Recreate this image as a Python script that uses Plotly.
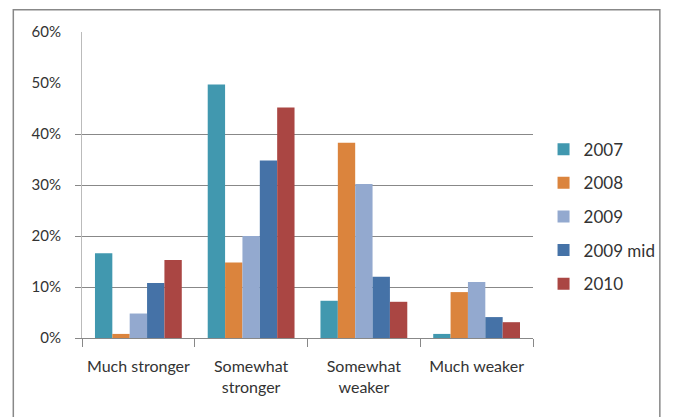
import plotly.graph_objects as go

categories = ["Much stronger", "Somewhat<br>stronger", "Somewhat<br>weaker", "Much weaker"]
series_names = ["2007", "2008", "2009", "2009 mid", "2010"]
values_2007 = [16.6, 49.7, 7.3, 0.8]
values_2008 = [0.8, 14.8, 38.3, 9.0]
values_2009 = [4.8, 20.0, 30.2, 11.0]
values_2009mid = [10.8, 34.8, 12.0, 4.1]
values_2010 = [15.3, 45.2, 7.1, 3.1]
series_values = [values_2007, values_2008, values_2009, values_2009mid, values_2010]
colors = ["#4198AF", "#DB843D", "#93A9CF", "#4572A7", "#AA4643"]
y_tickvals = [0, 10, 20, 30, 40, 50, 60]
y_ticktext = ["0%", "10%", "20%", "30%", "40%", "50%", "60%"]
grid_tickvals = [0, 10, 20, 30, 40]

FONT = "Lato"
TEXT = "#333"

fig = go.Figure()
for name, vals, col in zip(series_names, series_values, colors):
    fig.add_trace(go.Bar(
        x=categories, y=vals, name=name, marker_color=col,
        marker_line_width=0, legendgroup=name,
    ))

# invisible trace to activate the grid/tick overlay axis
fig.add_trace(go.Scatter(x=[categories[0]], y=[0], yaxis="y2", mode="markers",
                         marker=dict(opacity=0), showlegend=False, hoverinfo="skip"))

# page has an 8px body margin; figure coordinates = page - 8
OFF = 8
W, H = 673 - OFF, 417 - OFF
L = 81.7 - OFF
T = 32.3 - OFF
R = W - (539.3 - OFF)
B = H - (338.3 - OFF)
pw = W - L - R
ph = H - T - B

def px_x(p):
    return (p - OFF - L) / pw

def px_y(p):
    return (H - B - (p - OFF)) / ph

fig.update_layout(
    width=W, height=H,
    margin=dict(l=L, r=R, t=T, b=B),
    paper_bgcolor="white", plot_bgcolor="white",
    barmode="group", bargap=0.23, bargroupgap=0,
    font=dict(family=FONT, size=16, color=TEXT),
    showlegend=True,
    legend=dict(
        x=px_x(550), y=px_y(132), xanchor="left", yanchor="top",
        font=dict(family=FONT, size=17, color=TEXT),
        tracegroupgap=8.5, bgcolor="rgba(0,0,0,0)", itemwidth=30,
    ),
    xaxis=dict(
        type="category", tickson="boundaries", ticks="outside", ticklen=8,
        tickcolor="#888", showline=True, linecolor="#888", linewidth=1,
        showgrid=False, tickfont=dict(family=FONT, size=16, color=TEXT),
        ticklabelstandoff=14,
    ),
    yaxis=dict(
        range=[0, 60], tickvals=y_tickvals, ticktext=y_ticktext,
        showgrid=False, zeroline=False, showline=True, linecolor="#bbb",
        ticks="", tickfont=dict(family=FONT, size=15, color=TEXT),
        ticklabelstandoff=17,
    ),
    yaxis2=dict(
        overlaying="y", side="left", range=[0, 60], tickvals=grid_tickvals,
        showticklabels=False, ticks="outside", ticklen=6, tickcolor="#888",
        showgrid=True, gridcolor="#888", gridwidth=1, zeroline=False, showline=False,
    ),
    shapes=[dict(
        type="rect", xref="paper", yref="paper",
        x0=px_x(12), x1=px_x(668), y0=px_y(430), y1=px_y(10),
        line=dict(color="#888", width=1.5), fillcolor="rgba(0,0,0,0)", layer="below",
    )],
)

fig.write_html("out.html")
